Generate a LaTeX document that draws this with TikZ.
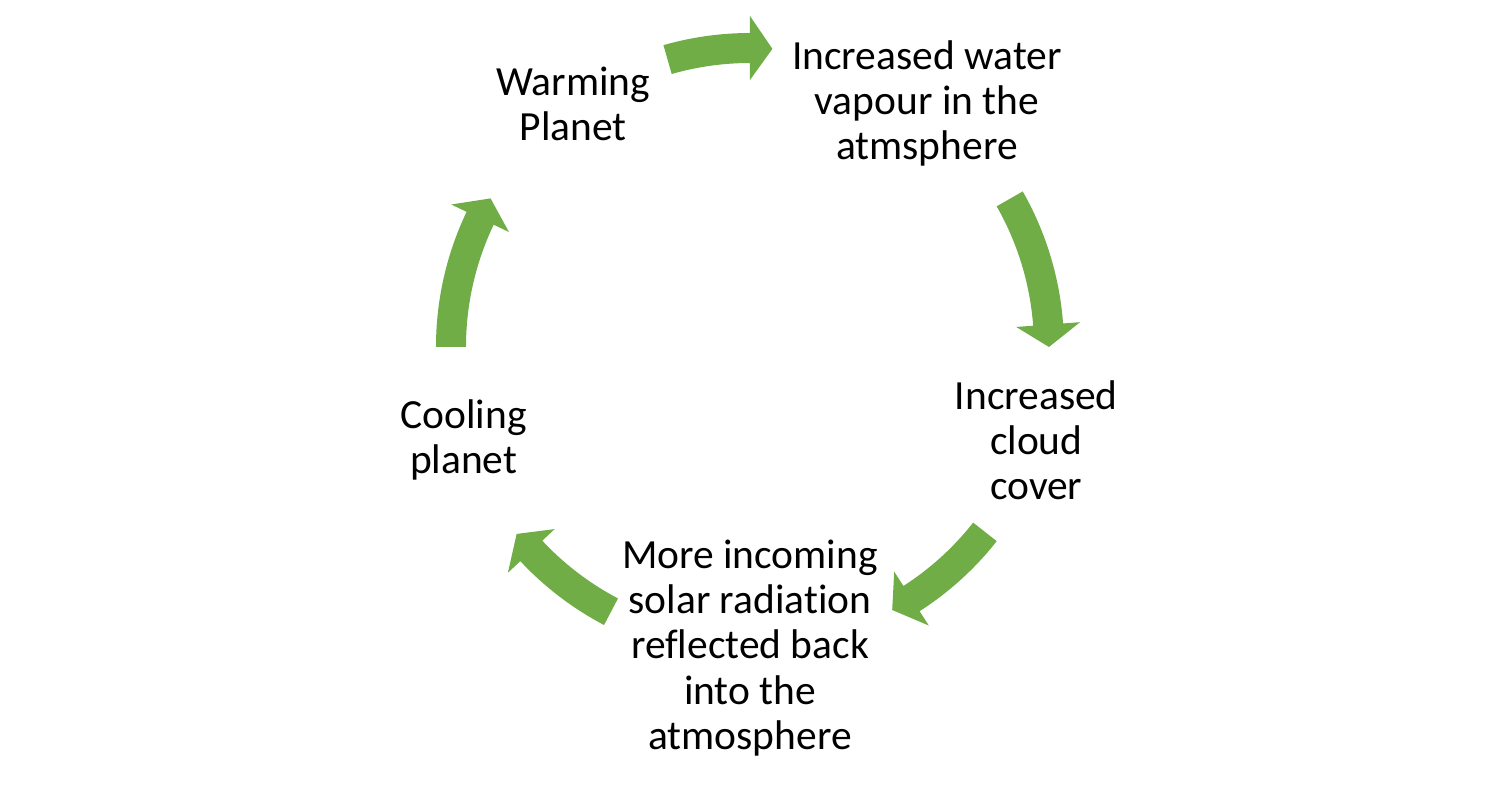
\documentclass[tikz,border=0pt]{standalone}
\usepackage{fontspec}
\setmainfont{Carlito}[Ligatures=NoCommon]
\usetikzlibrary{calc}
\definecolor{cyclegreen}{RGB}{112,173,71}

\begin{document}
\begin{tikzpicture}[cycletext/.style={align=center,inner sep=0pt,font=\fontsize{11.8}{12.85}\selectfont}]
\useasboundingbox (-7.5,-4.41) rectangle (7.5,3.47);
\coordinate (c) at (0,0);
% the five steps of the cycle
\node[cycletext] (warming) at ($(c)+(126:3.01)$) {Warming\\Planet};
\node[cycletext] (vapour) at ($(c)+(54:3.01)$) {Increased water\\vapour in the\\atmsphere};
\node[cycletext] (cloud) at ($(c)+(-18:3.01)$) {Increased\\cloud\\cover};
\node[cycletext] (reflect) at ($(c)+(-90:3.01)$) {More incoming\\solar radiation\\reflected back\\into the\\atmosphere};
\node[cycletext] (cooling) at ($(c)+(198:3.01)$) {Cooling\\planet};
% curved block arrows between them
\foreach \s/\e in {180/150.2, 106/85.7, 29.7/0, -38.2/-61.6, 242.3/218.7}{
  \pgfmathsetmacro{\b}{\e+4.3}
  \fill[cyclegreen] ($(c)+(\s:3.14)$) arc[start angle=\s,end angle=\b,radius=3.14]
    -- ($(c)+(\b:3.31)$) -- ($(c)+(\e:2.99)$) -- ($(c)+(\b:2.67)$) -- ($(c)+(\b:2.84)$)
    arc[start angle=\b,end angle=\s,radius=2.84] -- cycle;
}
\end{tikzpicture}
\end{document}
